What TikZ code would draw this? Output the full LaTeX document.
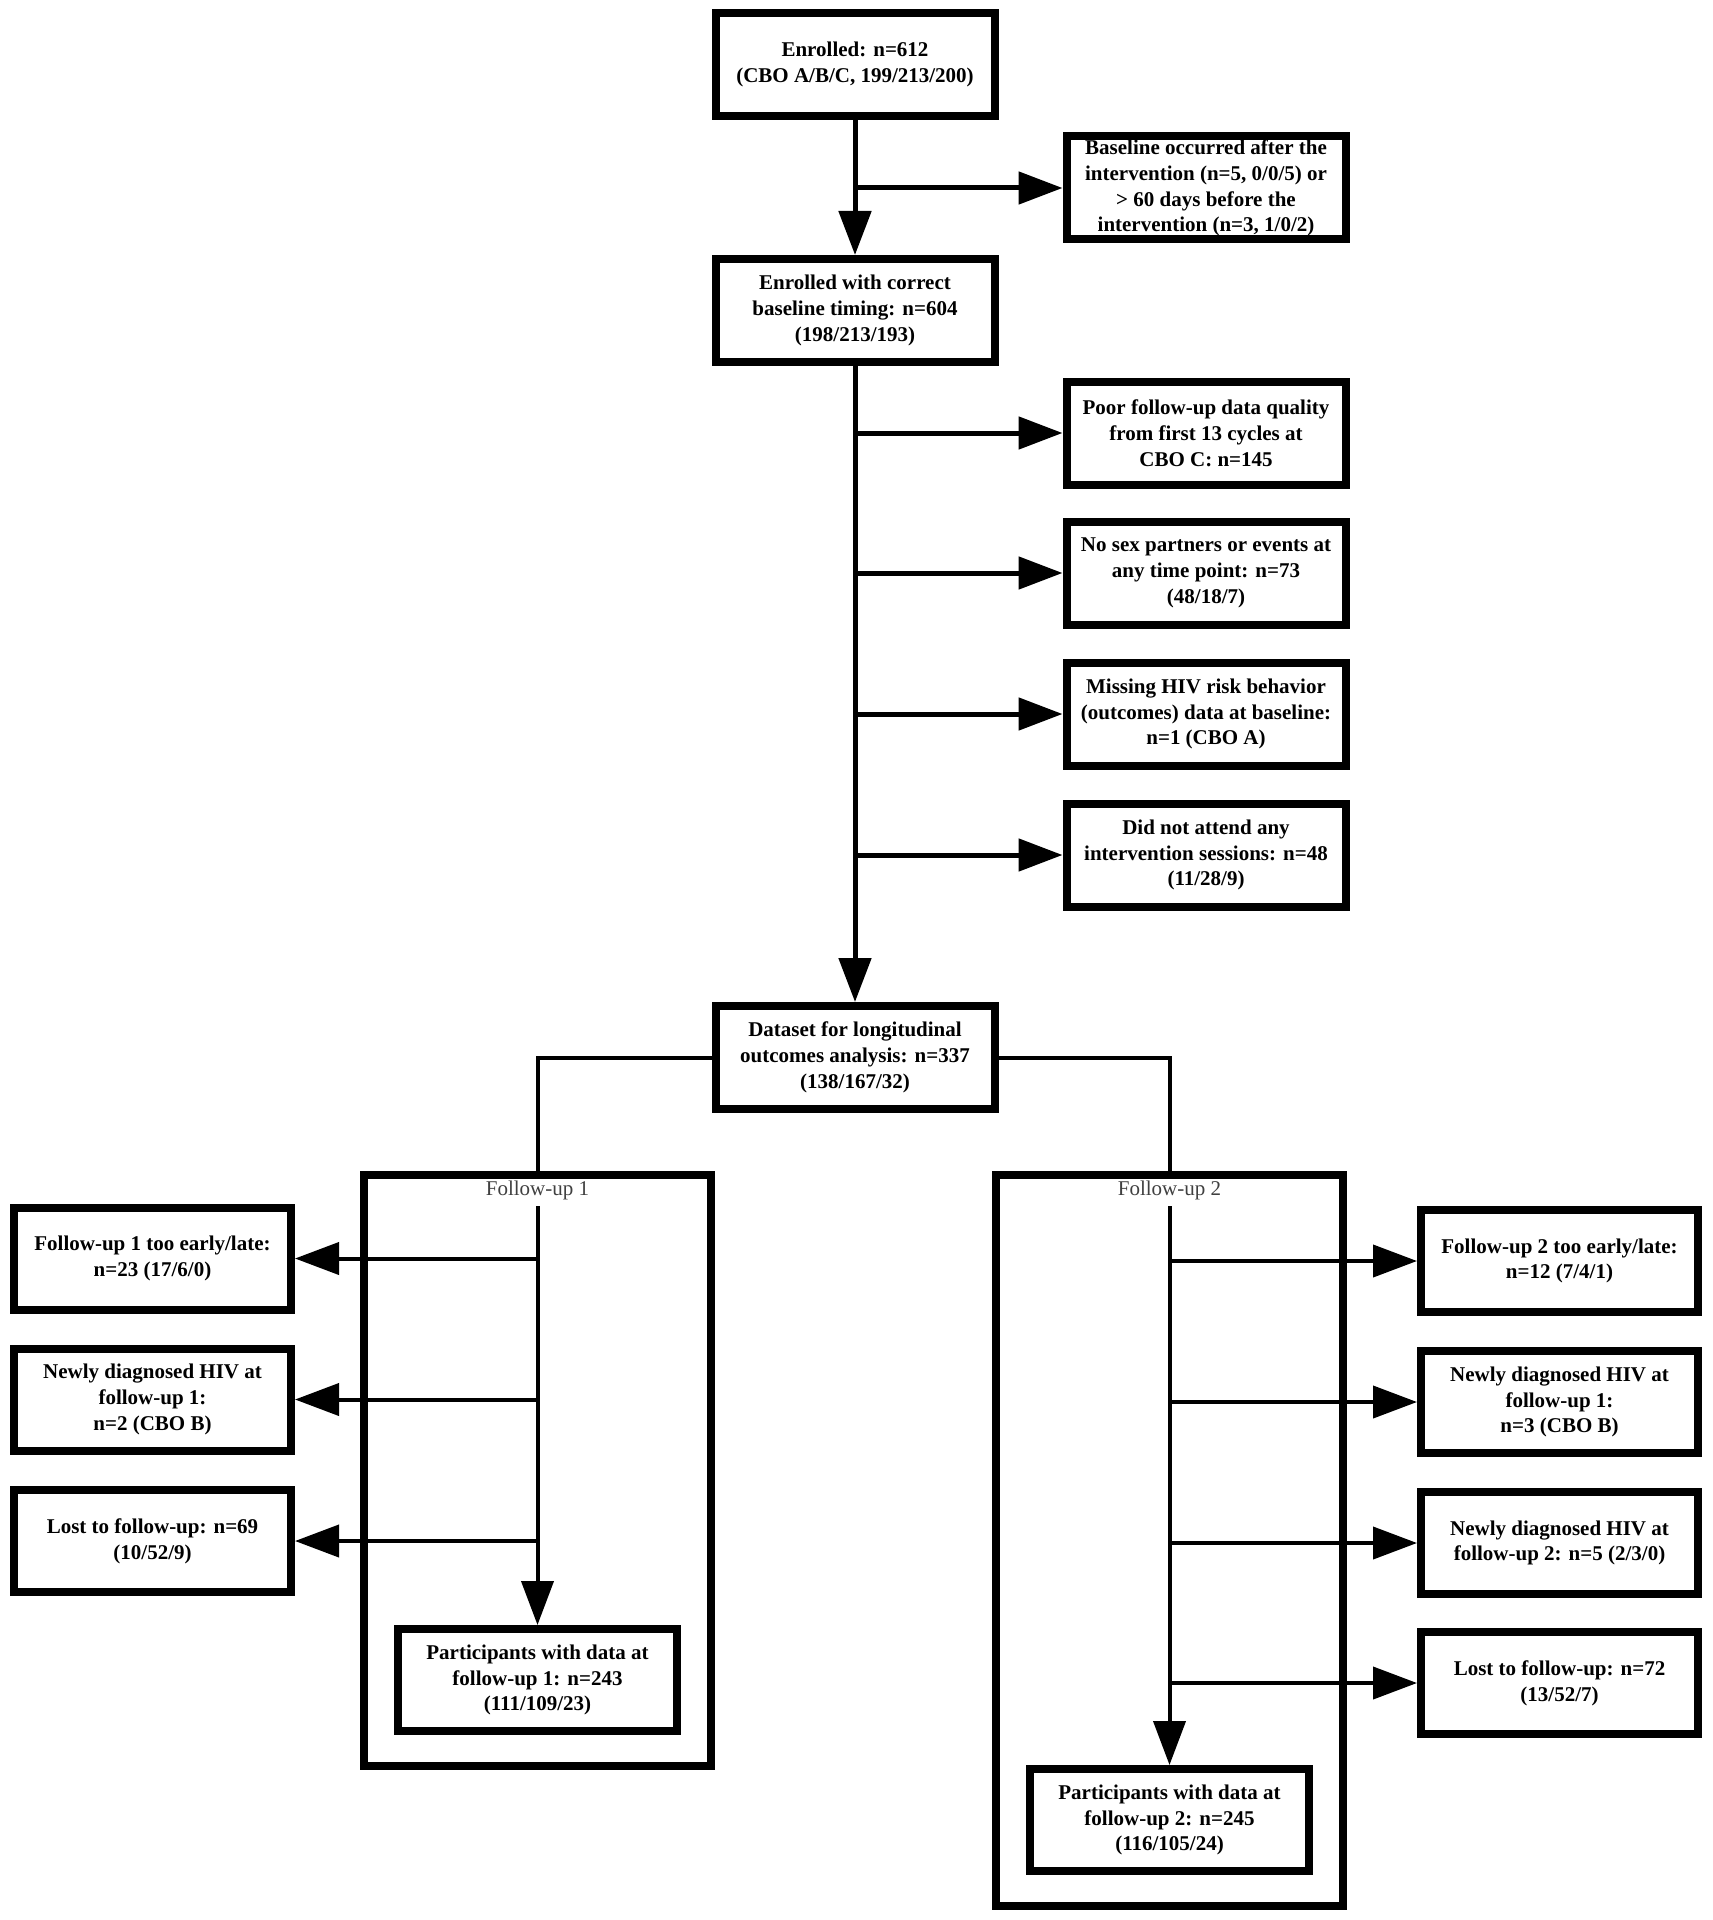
\documentclass[tikz,border=0pt]{standalone}
\usepackage{fontspec}
\setmainfont{Liberation Serif}
\usetikzlibrary{arrows.meta}
\begin{document}
\begin{tikzpicture}[x=0.5pt,y=-0.5pt,
  box/.style={draw,line width=4pt,minimum width=139.5pt,minimum height=51.5pt,align=center,
    font=\fontsize{10.5}{12.9}\selectfont\bfseries,inner sep=0pt},
  frame/.style={draw,line width=4pt,inner sep=0pt},
  conn/.style={line width=2.5pt,-{Triangle[length=22pt,width=16pt]}},
  thinconn/.style={line width=2pt,-{Triangle[length=22pt,width=16pt]}},
  link/.style={line width=2pt},
  lbl/.style={font=\fontsize{10.5}{12.9}\selectfont,text=black!75,inner sep=0pt}
]
\useasboundingbox[fill=white] (0,0) rectangle (1712,1920);
% main column
\node[box] (enr) at (855,64.5) {Enrolled: n=612\\(CBO A/B/C, 199/213/200)};
\node[box] (base) at (1206,188) {Baseline occurred after the\\intervention (n=5, 0/0/5) or\\> 60 days before the\\intervention (n=3, 1/0/2)};
\node[box] (ok) at (855,310.5) {Enrolled with correct\\baseline timing: n=604\\(198/213/193)};
\node[box] (poor) at (1206,433) {Poor follow-up data quality\\from first 13 cycles at\\CBO C: n=145};
\node[box] (nosex) at (1206,573) {No sex partners or events at\\any time point: n=73\\(48/18/7)};
\node[box] (miss) at (1206,714) {Missing HIV risk behavior\\(outcomes) data at baseline:\\n=1 (CBO A)};
\node[box] (dna) at (1206,855) {Did not attend any\\intervention sessions: n=48\\(11/28/9)};
\node[box] (ds) at (855,1057.5) {Dataset for longitudinal\\outcomes analysis: n=337\\(138/167/32)};
% frames
\node[frame,minimum width=173.5pt,minimum height=295.5pt] (fu1) at (537.5,1470.5) {};
\node[frame,minimum width=173.5pt,minimum height=365.5pt] (fu2) at (1169.5,1540.5) {};
\node[lbl] (fu1l) at (537.5,1190) {Follow-up 1};
\node[lbl] (fu2l) at (1169.5,1190) {Follow-up 2};
\coordinate (fu1s) at (537.5,1206);
\coordinate (fu2s) at (1169.5,1206);
% follow-up 1
\node[box,minimum width=138.5pt,minimum height=51pt] (l1) at (152.5,1258.5) {Follow-up 1 too early/late:\\n=23 (17/6/0)};
\node[box,minimum width=138.5pt,minimum height=51pt] (l2) at (152.5,1399.5) {Newly diagnosed HIV at\\follow-up 1:\\n=2 (CBO B)};
\node[box,minimum width=138.5pt,minimum height=51pt] (l3) at (152.5,1541) {Lost to follow-up: n=69\\(10/52/9)};
\node[box,minimum height=51pt] (p1) at (537.5,1680) {Participants with data at\\follow-up 1: n=243\\(111/109/23)};
% follow-up 2
\node[box,minimum width=138.5pt,minimum height=51pt] (r1) at (1559.5,1261) {Follow-up 2 too early/late:\\n=12 (7/4/1)};
\node[box,minimum width=138.5pt,minimum height=51pt] (r2) at (1559.5,1402) {Newly diagnosed HIV at\\follow-up 1:\\n=3 (CBO B)};
\node[box,minimum width=138.5pt,minimum height=51pt] (r3) at (1559.5,1543) {Newly diagnosed HIV at\\follow-up 2: n=5 (2/3/0)};
\node[box,minimum width=138.5pt,minimum height=51pt] (r4) at (1559.5,1683) {Lost to follow-up: n=72\\(13/52/7)};
\node[box,minimum height=51pt] (p2) at (1169.5,1820) {Participants with data at\\follow-up 2: n=245\\(116/105/24)};
% connectors main
\draw[conn] (enr.south) -- (ok.north);
\draw[conn] (enr.south |- base.west) -- (base.west);
\draw[conn] (ok.south) -- (ds.north);
\draw[conn] (ok.south |- poor.west) -- (poor.west);
\draw[conn] (ok.south |- nosex.west) -- (nosex.west);
\draw[conn] (ok.south |- miss.west) -- (miss.west);
\draw[conn] (ok.south |- dna.west) -- (dna.west);
\draw[link] (ds.west) -| (fu1.north);
\draw[link] (ds.east) -| (fu2.north);
% follow-up 1 connectors
\draw[thinconn] (fu1s) -- (p1.north);
\draw[thinconn] (fu1s |- l1.east) -- (l1.east);
\draw[thinconn] (fu1s |- l2.east) -- (l2.east);
\draw[thinconn] (fu1s |- l3.east) -- (l3.east);
% follow-up 2 connectors
\draw[thinconn] (fu2s) -- (p2.north);
\draw[thinconn] (fu2s |- r1.west) -- (r1.west);
\draw[thinconn] (fu2s |- r2.west) -- (r2.west);
\draw[thinconn] (fu2s |- r3.west) -- (r3.west);
\draw[thinconn] (fu2s |- r4.west) -- (r4.west);
\end{tikzpicture}
\end{document}
